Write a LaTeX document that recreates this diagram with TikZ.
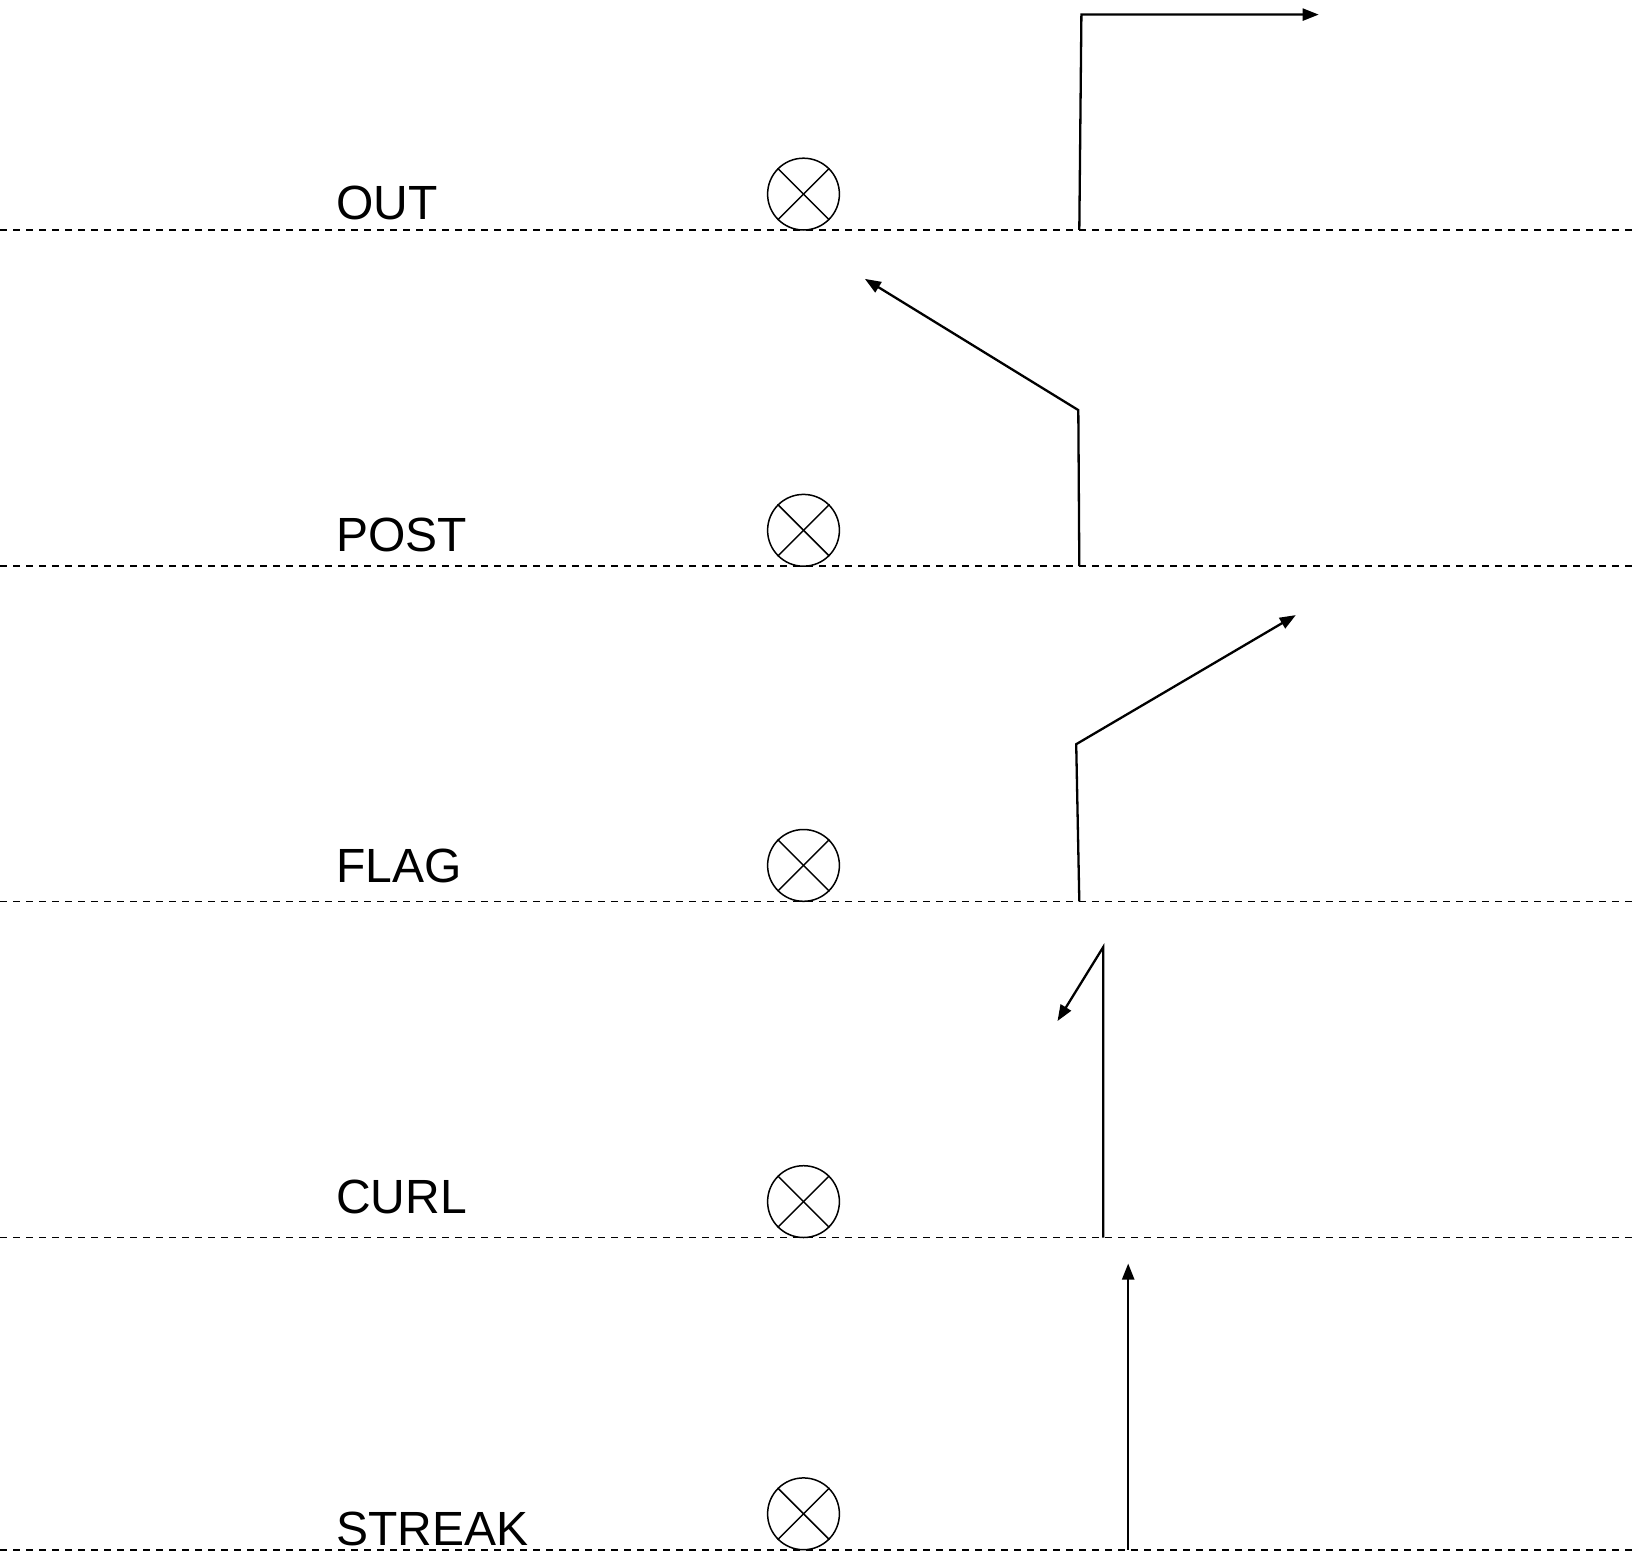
\documentclass[tikz,border=0pt]{standalone}
\usepackage{fontspec}
\setmainfont{Liberation Sans}
\usetikzlibrary{arrows.meta}

\tikzset{
  level/.style={draw=black, line width=1.6pt, dash pattern=on 7pt off 6pt},
  marker/.style={draw=black, line width=1.5pt, circle, inner sep=0pt, minimum size=71.8pt},
  cross/.style={draw=black, line width=1.5pt},
  label/.style={anchor=base west, inner sep=0pt, font=\fontsize{48pt}{58pt}\selectfont},
  trace/.style={draw=black, line width=2.3pt, line join=miter,
    -{Triangle[length=16pt, width=12pt]}},
}

\begin{document}
\begin{tikzpicture}[x=1pt, y=-1pt]
  \useasboundingbox (0,0) rectangle (1632,1554);

  % horizontal reference levels
  \foreach \n/\y in {a/230, b/566.2, c/901.3, d/1237.5, e/1549.8} {
    \coordinate (L\n) at (0,\y);
    \coordinate (R\n) at (1632,\y);
    \draw[level] (L\n) -- (R\n);
  }

  % stage names
  \node[label] (tout)    at (336, 219.7)  {OUT};
  \node[label] (tpost)   at (336, 551.7)  {POST};
  \node[label] (tflag)   at (336, 882.7)  {FLAG};
  \node[label] (tcurl)   at (336, 1213.7) {CURL};
  \node[label] (tstreak) at (336, 1545.5) {STREAK};

  % crossed-circle markers
  \foreach \n/\y in {mout/194.1, mpost/530.3, mflag/865.4, mcurl/1201.6, mstreak/1513.8} {
    \node[marker] (\n) at (803.5,\y) {};
    \draw[cross] (\n.45) -- (\n.225);
    \draw[cross] (\n.135) -- (\n.315);
  }

  % OUT: straight up, then right
  \coordinate (o0) at (1079.3, 230);
  \coordinate (o1) at (1081.4, 14.6);
  \coordinate (o2) at (1318.7, 14.6);
  \draw[trace] (o0) -- (o1) -- (o2);

  % POST: up, then back up-left
  \coordinate (p0) at (1079.3, 566.2);
  \coordinate (p1) at (1078.3, 410.1);
  \coordinate (p2) at (864.9, 278.9);
  \draw[trace] (p0) -- (p1) -- (p2);

  % FLAG: up, then up-right
  \coordinate (f0) at (1079.3, 901.3);
  \coordinate (f1) at (1076.2, 744.2);
  \coordinate (f2) at (1295.8, 615.1);
  \draw[trace] (f0) -- (f1) -- (f2);

  % CURL: up, then curls down-left
  \coordinate (c0) at (1103.2, 1237.5);
  \coordinate (c1) at (1103.2, 947.1);
  \coordinate (c2) at (1057.5, 1021);
  \draw[trace] (c0) -- (c1) -- (c2);

  % STREAK: straight up
  \coordinate (s0) at (1128.2, 1549.8);
  \coordinate (s1) at (1128.2, 1263.5);
  \draw[trace] (s0) -- (s1);
\end{tikzpicture}
\end{document}
